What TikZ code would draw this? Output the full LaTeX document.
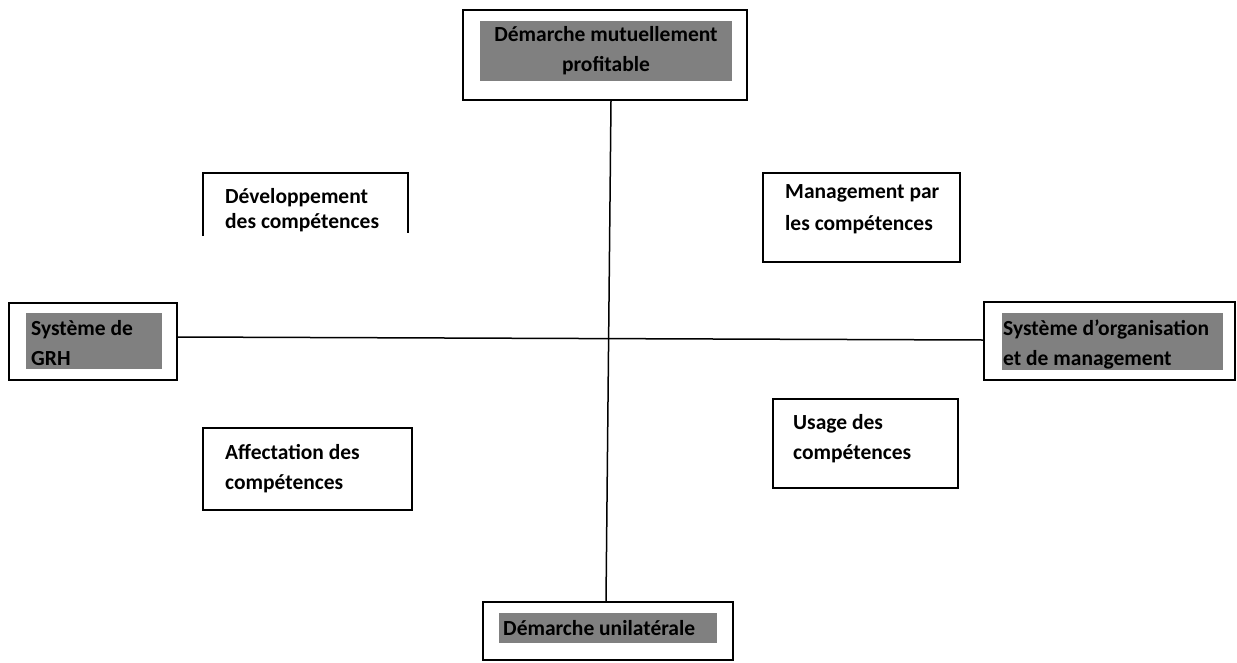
\documentclass[tikz,border=0pt]{standalone}
\usepackage{fontspec}
\setmainfont{Carlito}
\definecolor{hdrgray}{RGB}{128,128,128}
\tikzset{
  box/.style={draw=black, line width=1.6pt, fill=white, inner sep=0pt},
  graybar/.style={fill=hdrgray, draw=none, inner sep=0pt},
  lbl/.style={inner sep=0pt, font=\bfseries\fontsize{21.5}{30}\selectfont, align=left},
  axis/.style={draw=black, line width=1.5pt}
}
\begin{document}
\begin{tikzpicture}[x=1pt,y=-1pt]
\useasboundingbox (0,0) rectangle (1237,662);
% boxes
\node[box, minimum width=284pt, minimum height=90pt] (top) at (605,55) {};
\node[graybar, minimum width=252pt, minimum height=60pt] (topg) at (606,51) {};
\node[lbl, align=center] (toptxt) at (606,51) {Démarche mutuellement\\profitable};

\node[box, minimum width=168pt, minimum height=77pt] (grh) at (93,341.5) {};
\node[graybar, minimum width=136pt, minimum height=56pt] (grhg) at (94,341) {};
\node[lbl, anchor=west] (grhtxt) at (31,343.5) {Système de\\GRH};

\node[box, minimum width=251pt, minimum height=78pt] (org) at (1109.5,341) {};
\node[graybar, minimum width=221pt, minimum height=57pt] (orgg) at (1112.5,341.5) {};
\node[lbl, anchor=west] (orgtxt) at (1003,344) {Système d’organisation\\et de management};

\node[box, minimum width=250pt, minimum height=58pt] (bot) at (608,631) {};
\node[graybar, minimum width=218pt, minimum height=30pt] (botg) at (608,628) {};
\node[lbl, anchor=west] (bottxt) at (503,628.5) {Démarche unilatérale};

\draw[line width=1.6pt] (203,236) -- (203,173) -- (408,173) -- (408,233);
\node[lbl, anchor=west, font=\bfseries\fontsize{21.5}{25}\selectfont] (devtxt) at (225,210) {Développement\\des compétences};

\node[box, minimum width=197pt, minimum height=89pt] (mgt) at (861.5,217.5) {};
\node[lbl, anchor=west, font=\bfseries\fontsize{21.5}{32}\selectfont] (mgttxt) at (785,209.5) {Management par\\les compétences};

\node[box, minimum width=209pt, minimum height=82pt] (aff) at (307.5,469) {};
\node[lbl, anchor=west] (afftxt) at (225,468.5) {Affectation des\\compétences};

\node[box, minimum width=185pt, minimum height=89pt] (usg) at (865.5,443.5) {};
\node[lbl, anchor=west] (usgtxt) at (793,438.5) {Usage des\\compétences};

% connectors
\draw[axis] ([xshift=6pt]top.south) -- ([xshift=-2pt]bot.north);
\draw[axis] ([yshift=4.5pt]grh.east) -- ([yshift=1pt]org.west);
\end{tikzpicture}
\end{document}
